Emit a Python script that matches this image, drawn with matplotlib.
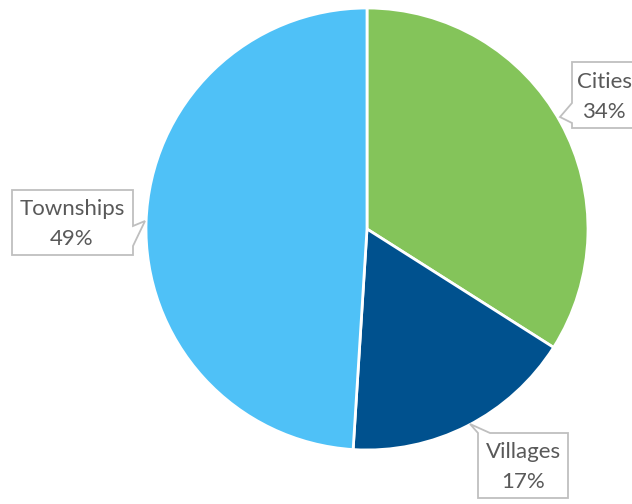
import matplotlib
matplotlib.use('Agg')
import matplotlib.pyplot as plt
from matplotlib.patches import Polygon
from matplotlib.transforms import Affine2D

# share of population by settlement type
labels = ["Cities", "Villages", "Townships"]
shares = [34, 17, 49]
colors = ["#84C45A", "#00518E", "#4FC1F7"]

W, H = 632, 504

fig = plt.figure(figsize=(W / 100, H / 100), dpi=100)
ax = fig.add_axes([0, 0, 1, 1])

ax.pie(shares, colors=colors, startangle=90, counterclock=False,
       wedgeprops=dict(edgecolor="white", linewidth=2))
ax.set_xlim(-367 / 221, (W - 367) / 221)
ax.set_ylim(-(H - 229) / 221, 229 / 221)
ax.set_aspect("auto")
ax.axis("off")

# pixel coordinates, origin top-left
px = Affine2D().scale(1 / W, -1 / H).translate(0, 1) + fig.transFigure

# callout outlines (box with a pointer notch) and text centres
callouts = {
    "Cities": ([(572, 62), (640, 62), (640, 128), (572, 128), (572, 123),
                (560, 117), (572, 103)], (604, 97)),
    "Villages": ([(478, 433), (470, 424), (490, 433), (568, 433), (568, 498),
                  (478, 498)], (523, 467)),
    "Townships": ([(12, 190), (133, 190), (133, 226), (145, 221), (133, 246),
                   (133, 255), (12, 255)], (72, 224)),
}

for lab, val in zip(labels, shares):
    pts, (tx, ty) = callouts[lab]
    fig.patches.append(Polygon(pts, closed=True, fc="white", ec="#BFBFBF",
                               lw=1.3, transform=px, zorder=3))
    fig.text(tx, ty, "%s\n%d%%" % (lab, val), transform=px, ha="center",
             va="center", fontsize=16, color="#595959", family="Lato",
             linespacing=1.6, zorder=4)

fig.savefig("out.png", dpi=100)
